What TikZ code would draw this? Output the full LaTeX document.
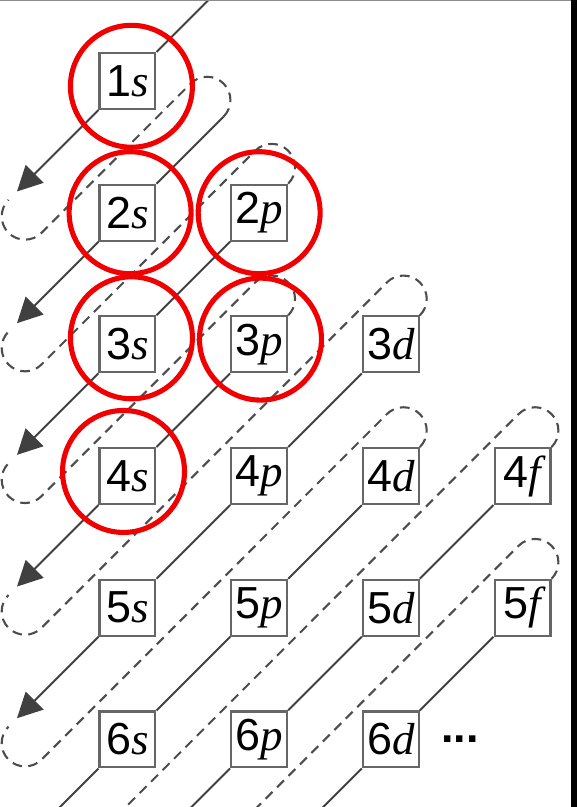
\documentclass[tikz,border=0pt]{standalone}
\usepackage{fontspec}
\setmainfont{Liberation Sans}
\newfontfamily\letterfont{Liberation Serif}
\usetikzlibrary{arrows.meta}
\definecolor{ringred}{HTML}{F00000}
\tikzset{
	orbbox/.style={draw=black!60, line width=0.45pt, fill=white, minimum size=0.425cm,
		inner sep=0pt, font=\fontsize{9.7}{11}\selectfont}
}
\tikzset{
	diag/.style={draw=black!75, line width=0.42pt},
	loopline/.style={draw=black!70, line width=0.45pt, dash pattern=on 2.1pt off 1.4pt},
	ring/.style={draw=ringred, line width=1.1pt}
}
\newcommand{\orbl}[2]{#1{\letterfont\itshape #2}}

\begin{document}
\begin{tikzpicture}
      \useasboundingbox (-0.968,-5.513) rectangle (3.413,0.615);
      \clip (-0.968,-5.513) rectangle (3.413,0.615);
      \foreach \n/\ltr/\x in {1/s/0, 2/s/0, 2/p/1, 3/s/0, 3/p/1, 3/d/2,
        4/s/0, 4/p/1, 4/d/2, 4/f/3, 5/s/0, 5/p/1, 5/d/2, 5/f/3, 6/s/0, 6/p/1, 6/d/2}
        \node[orbbox] (o\n\ltr) at (\x,1-\n) {\orbl{\n}{\ltr}};
      % arrow tips and lower turning points
      \foreach \k in {0,...,7} {
        \coordinate (tip\k) at (-0.839,-0.839-\k);
        \coordinate (lp\k) at (-0.653,-1.153-\k);
      }
      \coordinate (st1) at (0.73,-0.27);
      \coordinate (out0) at (1.0,1.0);
      % solid diagonals
      \draw[diag] (o1s.north east) -- (out0);
      \draw[diag] (st1) -- (o2s.north east);
      \foreach \ua/\ub in {2p/3s, 3p/4s, 3d/4p, 4p/5s, 4d/5p, 5p/6s, 4f/5d, 5d/6p, 5f/6d}
        \draw[diag] (o\ua.south west) -- (o\ub.north east);
      \foreach \nm/\k in {1s/0, 2s/1, 3s/2, 4s/3, 5s/4, 6s/5, 6p/6, 6d/7}
        \draw[diag, -{Triangle[length=5.4pt, width=5.4pt]}] (o\nm.south west) -- (tip\k);
      % dashed return loops
      \foreach \st/\k in {st1/0, o2p.north east/1, o3p.north east/2, o3d.north east/3,
        o4d.north east/4, o4f.north east/5, o5f.north east/6}
        \draw[loopline] (\st) arc[start angle=-45, end angle=135, radius=0.177]
          -- (lp\k) arc[start angle=-45, end angle=-225, radius=0.177];
      % red rings
      \foreach \nm/\dx/\dy in {1s/0.03/-0.04, 2s/0.02/0, 2p/0/0, 3s/0.03/0.05,
        3p/0.01/0.04, 4s/-0.03/0.035}
        \draw[ring] ([shift={(\dx,\dy)}]o\nm.center) circle[radius=0.463];
      \node[font=\fontsize{9.7}{11}\selectfont\bfseries] (dots) at (2.525,-5.0) {...};
      % page edges
      \fill[black] (3.367,-5.513) rectangle (3.413,0.615);
      \draw[black!45, line width=0.3pt] (-0.968,0.611) -- (3.367,0.611);
    \end{tikzpicture}
\end{document}
